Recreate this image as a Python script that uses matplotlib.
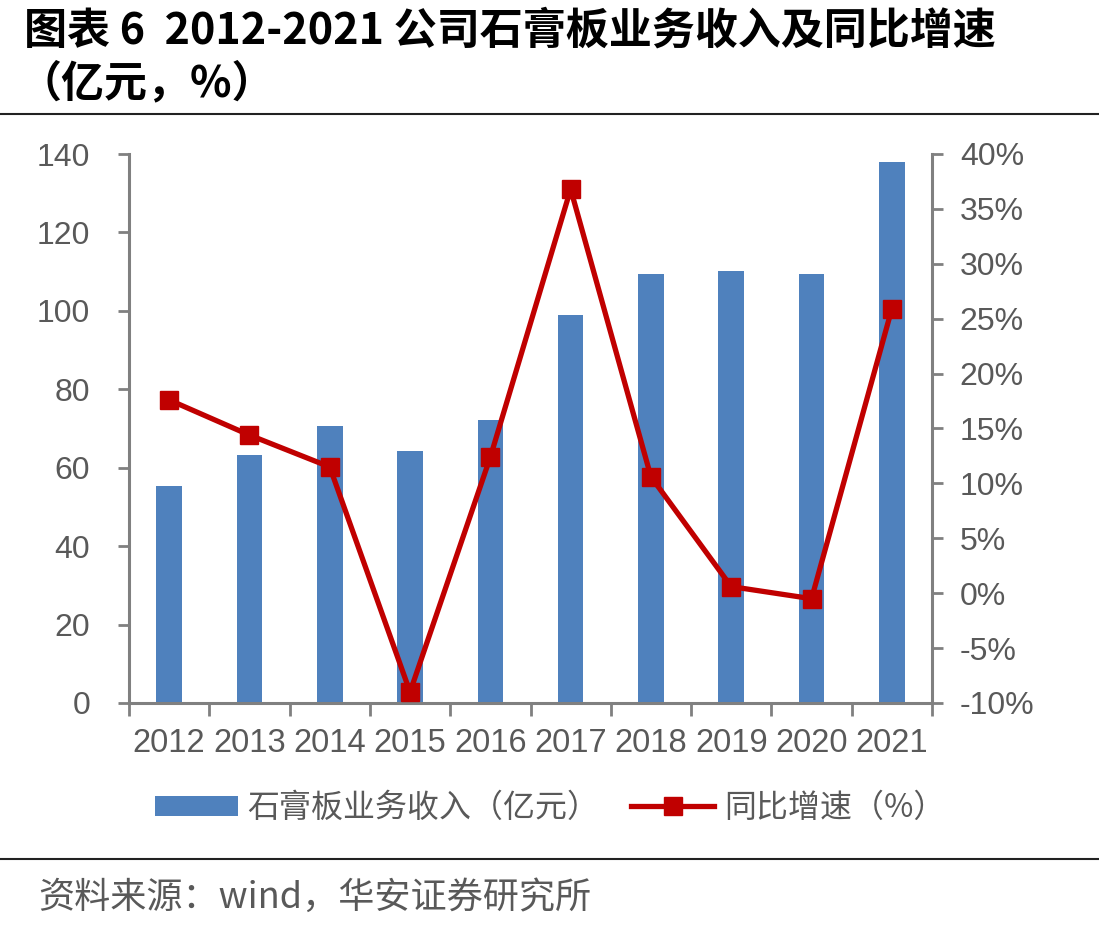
import matplotlib
matplotlib.use("Agg")
import matplotlib.pyplot as plt
from matplotlib.lines import Line2D
from matplotlib.patches import Patch
import numpy as np

plt.rcParams['font.family'] = ['Liberation Sans', 'Noto Sans CJK SC', 'DejaVu Sans']

years = ["2012", "2013", "2014", "2015", "2016", "2017", "2018", "2019", "2020", "2021"]
revenue = [55.4, 63.3, 70.7, 64.3, 72.2, 99.0, 109.4, 110.2, 109.4, 138.0]
growth = [17.6, 14.4, 11.5, -9.0, 12.4, 36.8, 10.6, 0.6, -0.5, 25.9]
left_ticks = [0, 20, 40, 60, 80, 100, 120, 140]
right_ticks = [-10, -5, 0, 5, 10, 15, 20, 25, 30, 35, 40]

title_line1 = "图表 6  2012-2021 公司石膏板业务收入及同比增速"
title_line2 = "（亿元，%）"
bar_label = "石膏板业务收入（亿元）"
line_label = "同比增速（%）"
source = "资料来源：wind，华安证券研究所"

W, H = 1099, 931
fig = plt.figure(figsize=(W/100, H/100), dpi=100)
ax = fig.add_axes([129/W, 1-703/H, (932-129)/W, (703-154)/H])
ax2 = ax.twinx()

gray = "#808080"
tcol = "#595959"
red = "#C00000"
blue = "#4F81BD"
x = np.arange(len(years))
ax.bar(x, revenue, width=0.32, color=blue, zorder=2)
ax.set_xlim(-0.5, len(years)-0.5)
ax.set_ylim(0, 140)
ax.set_yticks(left_ticks)
ax2.plot(x, growth, color=red, lw=3.8, marker="s", markersize=13, zorder=3)
ax2.set_ylim(-10, 40)
ax2.set_yticks(right_ticks)
ax2.set_yticklabels([f"{v}%" for v in right_ticks])

ax.set_xticks(x)
ax.set_xticklabels(years)
ax.set_xticks(np.arange(-0.5, len(years)), minor=True)
ax.tick_params(axis='x', which='major', length=0, labelsize=23.5, colors=tcol, pad=18)
ax.tick_params(axis='x', which='minor', length=9, width=2, color=gray)
ax.tick_params(axis='y', length=8, width=2, color=gray, labelsize=23, labelcolor=tcol, pad=20)
ax2.tick_params(axis='y', length=8, width=2, color=gray, labelsize=23, labelcolor=tcol, pad=12)

for a in (ax, ax2):
    for s in a.spines.values():
        s.set_visible(False)
ax.spines['left'].set_visible(True)
ax.spines['bottom'].set_visible(True)
ax2.spines['right'].set_visible(True)
for s in (ax.spines['left'], ax.spines['bottom'], ax2.spines['right']):
    s.set_color(gray)
    s.set_linewidth(2.2)

fig.text(24/W, 1-31/H, title_line1, ha='left', va='center', fontsize=31, fontweight='bold',
         family=['Noto Sans CJK SC'])
fig.text(18/W, 1-83/H, title_line2, ha='left', va='center', fontsize=31, fontweight='bold',
         family=['Noto Sans CJK SC'])
fig.add_artist(Line2D([0, 1], [1-114/H, 1-114/H], color="#222222", lw=1.5))
fig.add_artist(Line2D([0, 1], [1-859/H, 1-859/H], color="#222222", lw=1.5))

handles = [Patch(facecolor=blue, label=bar_label),
           Line2D([], [], color=red, lw=3.8, marker="s", markersize=13, label=line_label)]
fig.legend(handles=handles, loc='center', bbox_to_anchor=(550/W, 1-808/H), ncol=2,
           frameon=False, prop={'family': ['Noto Sans CJK SC'], 'size': 23},
           labelcolor=tcol, handlelength=2.6, handletextpad=0.3, columnspacing=1.0,
           handleheight=0.6)

fig.text(38/W, 1-898/H, source, ha='left', va='center', fontsize=26, color=tcol,
         family=['Noto Sans CJK SC', 'Liberation Sans'])

fig.savefig("out.png", dpi=100)
